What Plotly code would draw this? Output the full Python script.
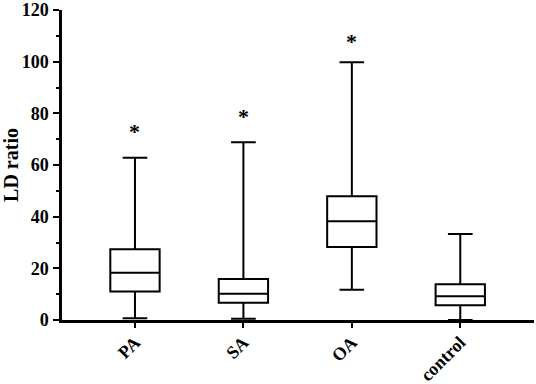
import plotly.graph_objects as go

categories = ["PA", "SA", "OA", "control"]
lower_whisker = [0.7, 0.5, 11.7, 0.0]
q1_values = [11.0, 6.7, 28.3, 5.7]
median_values = [18.3, 10.2, 38.2, 9.2]
q3_values = [27.4, 15.9, 47.9, 13.8]
upper_whisker = [62.8, 68.8, 99.8, 33.3]
significance = ["*", "*", "*", ""]
star_y = [72.9, 79.0, 108.0, 0]
y_ticks = [0, 20, 40, 60, 80, 100, 120]

FONT = "Liberation Serif"

fig = go.Figure()
fig.add_trace(go.Box(
    x=categories,
    q1=q1_values,
    median=median_values,
    q3=q3_values,
    lowerfence=lower_whisker,
    upperfence=upper_whisker,
    fillcolor="white",
    line=dict(color="black", width=2),
    whiskerwidth=0.5,
    boxpoints=False,
    showlegend=False,
    hoverinfo="skip",
))

for cat, s, yv in zip(categories, significance, star_y):
    if s:
        fig.add_annotation(x=cat, y=yv, text="<b>" + s + "</b>", showarrow=False,
                           font=dict(family=FONT, size=22, color="black"),
                           yanchor="middle", xanchor="center")

fig.update_layout(
    width=536, height=384,
    margin=dict(l=62, r=2, t=10, b=64, autoexpand=False),
    plot_bgcolor="white", paper_bgcolor="white",
    boxgap=0.35,
    font=dict(family=FONT, color="black"),
)
fig.update_xaxes(
    type="category", categoryorder="array", categoryarray=categories,
    range=[-0.673, 3.68], automargin=False,
    showline=True, linecolor="black", linewidth=2.5,
    ticks="outside", ticklen=5, tickwidth=2, tickcolor="black",
    tickangle=-45, showgrid=False, zeroline=False,
    tickfont=dict(family=FONT, size=18, color="black", weight="bold"),
    ticklabelstandoff=-3, ticklabeloverflow="allow",
)
fig.update_yaxes(
    range=[0, 120.05], tickvals=y_ticks, ticktext=[str(v) for v in y_ticks],
    automargin=False, ticklabeloverflow="allow",
    showline=True, linecolor="black", linewidth=2.5,
    ticks="outside", ticklen=6, tickwidth=2, tickcolor="black",
    minor=dict(dtick=10, tick0=0, ticks="outside", ticklen=3, tickwidth=2, tickcolor="black"),
    showgrid=False, zeroline=False,
    tickfont=dict(family=FONT, size=18, color="black", weight="bold"),
    ticklabelstandoff=1,
    title=dict(text="<b>LD ratio</b>", font=dict(family=FONT, size=20, color="black"), standoff=10),
)
fig.write_html("out.html", config={"displayModeBar": False},
               post_script="document.body.style.margin='0';document.body.style.overflow='hidden';")
